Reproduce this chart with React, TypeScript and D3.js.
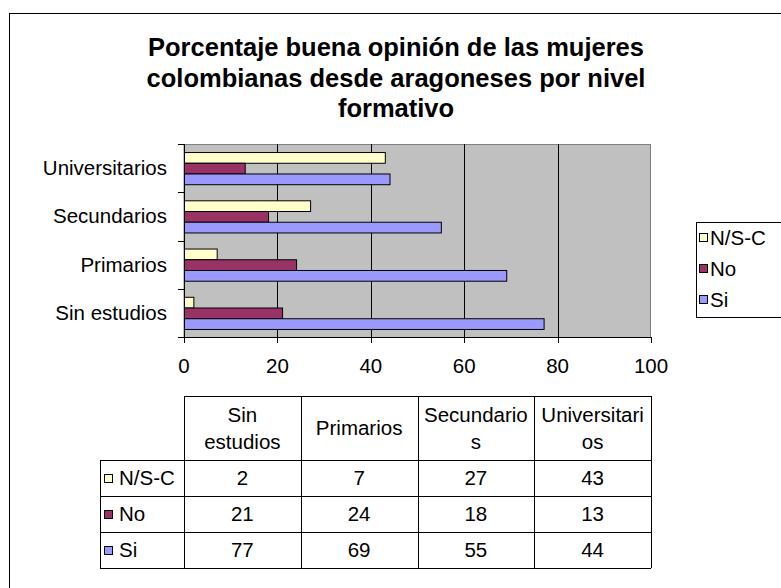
import React from 'react';
import * as d3 from 'd3';

// chart data
const categories = ['Sin estudios', 'Primarios', 'Secundarios', 'Universitarios'];
const headerLines = [['Sin', 'estudios'], ['Primarios'], ['Secundario', 's'], ['Universitari', 'os']];
const seriesNames = ['N/S-C', 'No', 'Si'];
const nsValues = [2, 7, 27, 43];
const noValues = [21, 24, 18, 13];
const siValues = [77, 69, 55, 44];
const xTicks = [0, 20, 40, 60, 80, 100];
const titleLines = [
  'Porcentaje buena opinión de las mujeres',
  'colombianas desde aragoneses por nivel',
  'formativo',
];

const seriesValues = [nsValues, noValues, siValues];
const colors = ['#FFFFCC', '#993366', '#9999FF'];
const FONT = '"Liberation Sans", Arial, sans-serif';
const FS = 20.5;

const App = () => {
  const W = 781;
  const H = 588;
  const plot = { left: 184, right: 651, top: 144, bottom: 337 };

  const x = d3.scaleLinear().domain([0, 100]).range([plot.left, plot.right]);
  // top to bottom: Universitarios ... Sin estudios
  const y = d3
    .scaleBand()
    .domain([...categories].reverse())
    .range([plot.top, plot.bottom])
    .padding(0);
  const inner = d3
    .scaleBand()
    .domain(seriesNames)
    .range([0, y.bandwidth()])
    .paddingInner(0)
    .paddingOuter(0.75);

  // table geometry
  const col = d3
    .scaleBand()
    .domain(categories)
    .range([plot.left, plot.right]);
  const tTop = 396;
  const headBottom = 460;
  const rowH = 36;
  const rowTop = (i: number) => headBottom + i * rowH;
  const tBottom = rowTop(3);
  const labelLeft = 100;

  return (
    <svg
      width={W}
      height={H}
      style={{ position: 'absolute', left: 0, top: 0, background: '#fff' }}
      fontFamily={FONT}
    >
      {/* chart frame, cut off on the right and bottom */}
      <rect x={9.5} y={13.5} width={900} height={700} fill="#fff" stroke="#000" />

      {/* title */}
      {titleLines.map((t, i) => (
        <text
          key={i}
          x={396}
          y={56 + i * 30.5}
          textAnchor="middle"
          fontSize={25.5}
          fontWeight="bold"
        >
          {t}
        </text>
      ))}

      {/* plot area */}
      <rect
        x={plot.left}
        y={plot.top + 0.5}
        width={plot.right - plot.left - 0.5}
        height={plot.bottom - plot.top}
        fill="#C0C0C0"
        stroke="#808080"
      />
      {xTicks.slice(1, -1).map(t => (
        <line
          key={t}
          x1={Math.round(x(t)) + 0.5}
          x2={Math.round(x(t)) + 0.5}
          y1={plot.top}
          y2={plot.bottom}
          stroke="#000"
        />
      ))}

      {/* bars */}
      {categories.map((c, ci) =>
        seriesNames.map((s, si) => (
          <rect
            key={c + s}
            x={plot.left + 0.5}
            y={(y(c) as number) + (inner(s) as number) + 0.5}
            width={x(seriesValues[si][ci]) - plot.left}
            height={inner.bandwidth()}
            fill={colors[si]}
            stroke="#000"
          />
        ))
      )}

      {/* axes */}
      <line x1={plot.left + 0.5} x2={plot.left + 0.5} y1={plot.top} y2={plot.bottom} stroke="#000" />
      <line x1={plot.left} x2={plot.right} y1={plot.bottom + 0.5} y2={plot.bottom + 0.5} stroke="#000" />
      {[...y.domain().map(c => y(c) as number), plot.bottom].map((v, i) => (
        <line
          key={i}
          x1={plot.left - 6}
          x2={plot.left}
          y1={Math.round(v) + 0.5}
          y2={Math.round(v) + 0.5}
          stroke="#000"
        />
      ))}
      {xTicks.map(t => (
        <g key={t}>
          <line
            x1={Math.round(x(t)) + 0.5}
            x2={Math.round(x(t)) + 0.5}
            y1={plot.bottom}
            y2={plot.bottom + 6}
            stroke="#000"
          />
          <text x={x(t)} y={373} textAnchor="middle" fontSize={FS}>
            {t}
          </text>
        </g>
      ))}
      {categories.map(c => (
        <text
          key={c}
          x={167}
          y={(y(c) as number) + y.bandwidth() / 2 + 7}
          textAnchor="end"
          fontSize={FS}
        >
          {c}
        </text>
      ))}

      {/* legend */}
      <rect x={696.5} y={222.5} width={120} height={95} fill="#fff" stroke="#000" />
      {seriesNames.map((s, i) => (
        <g key={s}>
          <rect x={699.5} y={233.5 + i * 31} width={8} height={8} fill={colors[i]} stroke="#000" />
          <text x={710} y={245 + i * 31} fontSize={FS}>
            {s}
          </text>
        </g>
      ))}

      {/* data table */}
      <g stroke="#000" fill="none">
        <line x1={plot.left} x2={plot.right} y1={tTop + 0.5} y2={tTop + 0.5} />
        {[0, 1, 2, 3].map(i => (
          <line key={i} x1={labelLeft} x2={plot.right} y1={rowTop(i) + 0.5} y2={rowTop(i) + 0.5} />
        ))}
        <line x1={labelLeft + 0.5} x2={labelLeft + 0.5} y1={headBottom} y2={tBottom} />
        {[...categories.map(c => col(c) as number), plot.right].map((v, i) => (
          <line key={i} x1={Math.round(v) + 0.5} x2={Math.round(v) + 0.5} y1={tTop} y2={tBottom} />
        ))}
      </g>
      {categories.map((c, ci) => {
        const cx = (col(c) as number) + col.bandwidth() / 2;
        const lines = headerLines[ci];
        const mid = (tTop + headBottom) / 2;
        return (
          <g key={c}>
            {lines.map((l, li) => (
              <text
                key={li}
                x={cx}
                y={mid + 7 + (li - (lines.length - 1) / 2) * 27}
                textAnchor="middle"
                fontSize={FS}
              >
                {l}
              </text>
            ))}
            {seriesValues.map((vals, si) => (
              <text
                key={si}
                x={cx}
                y={rowTop(si) + rowH / 2 + 7}
                textAnchor="middle"
                fontSize={FS}
              >
                {vals[ci]}
              </text>
            ))}
          </g>
        );
      })}
      {seriesNames.map((s, i) => (
        <g key={s}>
          <rect x={104.5} y={rowTop(i) + 14.5} width={8} height={8} fill={colors[i]} stroke="#000" />
          <text x={119} y={rowTop(i) + rowH / 2 + 7} fontSize={FS}>
            {s}
          </text>
        </g>
      ))}
    </svg>
  );
};

export default App;
